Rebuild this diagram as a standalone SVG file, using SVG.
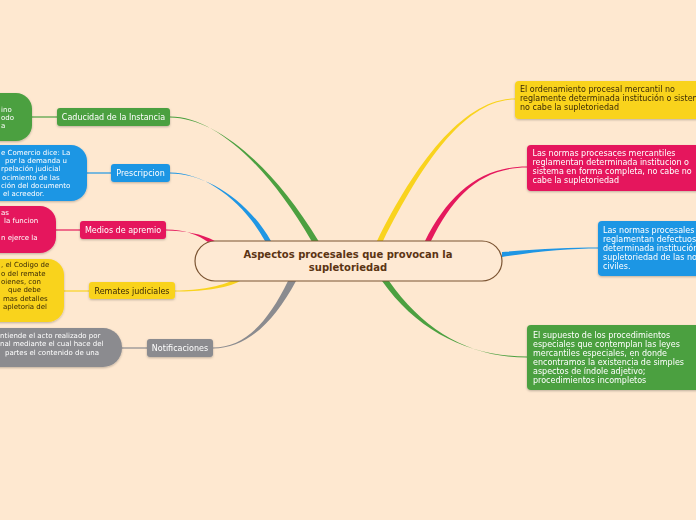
<svg xmlns="http://www.w3.org/2000/svg" width="696" height="520" viewBox="0 0 696 520">
<defs>
<style>
.t{font-family:"DejaVu Sans",Verdana,sans-serif;font-size:8px;fill:#fff}
.s{font-family:"DejaVu Sans",Verdana,sans-serif;font-size:7px;fill:#fff}
.dk{fill:#3a2a05}
.c{text-anchor:middle}
.ctr{font-family:"DejaVu Sans",Verdana,sans-serif;font-size:10px;font-weight:bold;fill:#5b3413;text-anchor:middle}
.g{fill:#4ca040}.b{fill:#1f96e4}.p{fill:#e5195d}.y{fill:#f9d31e}.gr{fill:#8b8b8f}
.ln{fill:none;stroke-width:1.2}
</style>
<filter id="sh" x="-10%" y="-10%" width="120%" height="140%">
<feDropShadow dx="0" dy="1" stdDeviation="0.8" flood-color="#000" flood-opacity="0.25"/>
</filter>
</defs>
<rect width="696" height="520" fill="#fee8d0"/>
<g id="connectors">
<path class="g" d="M311.5,241 C268,166 215,116.5 170,116.5 L170,117.5 C215,117.5 272,164 318.5,241 Z"/>
<path class="b" d="M265,241 C243,201 205,172.5 170,172.5 L170,173.5 C205,173.5 247,199 271,241 Z"/>
<path class="p" d="M208,242 C198,235 185,229.5 166,229.5 L166,230.5 C185,230.5 202,234 215,241 Z"/>
<path class="y" d="M233,280 C222,286 200,290.5 175,290.5 L175,291.5 C200,291.5 226,289 240,281 Z"/>
<path class="gr" d="M288,281 C268,322 245,347.5 213,347.5 L213,348.5 C247,348.5 274,322 296,281 Z"/>
<path class="y" d="M377,241 C417,160 465,98.5 515,98.5 L515,99.5 C466,99.5 423,161 383,241 Z"/>
<path class="p" d="M425,241 C448,195 480,166.5 527,166.5 L527,167.5 C481,167.5 453,196 431,241 Z"/>
<path class="b" d="M502,252 C540,249 570,247.5 599,247.5 L599,248.5 C570,248.5 540,251 502,257 Z"/>
<path class="g" d="M382,281 C418,332 470,356.5 527,356.5 L527,357.5 C470,357.5 424,331 389,281 Z"/>
<line class="ln" x1="57" y1="117" x2="32" y2="117" stroke="#4ca040"/>
<line class="ln" x1="111" y1="173" x2="87" y2="173" stroke="#1f96e4"/>
<line class="ln" x1="80" y1="230" x2="56" y2="230" stroke="#e5195d"/>
<line class="ln" x1="89" y1="291" x2="64" y2="291" stroke="#f9d31e"/>
<line class="ln" x1="147" y1="348" x2="122" y2="348" stroke="#8b8b8f"/>
</g>
<g id="center">
<rect x="195" y="241" width="307" height="40" rx="20" fill="#fee9d3" stroke="#7b5432" stroke-width="1.2"/>
<text class="ctr" x="348" y="258">Aspectos procesales que provocan la</text>
<text class="ctr" x="348" y="271">supletoriedad</text>
</g>
<g id="caducidad" filter="url(#sh)">
<rect class="g" x="57" y="108" width="113" height="18" rx="3"/>
<text class="t c" x="113.5" y="120">Caducidad de la Instancia</text>
</g>
<g id="caducidad-leaf" filter="url(#sh)">
<rect class="g" x="-30" y="93" width="62" height="48" rx="16"/>
<text class="s" x="1" y="111.5">ino</text>
<text class="s" x="1" y="119.8">odo</text>
<text class="s" x="1" y="128.1">a</text>
</g>
<g id="prescripcion" filter="url(#sh)">
<rect class="b" x="111" y="164" width="59" height="18" rx="3"/>
<text class="t c" x="140.5" y="176">Prescripcion</text>
</g>
<g id="prescripcion-leaf" filter="url(#sh)">
<rect class="b" x="-30" y="145" width="117" height="56" rx="16"/>
<text class="s" x="1" y="155">e Comercio dice: La</text>
<text class="s" x="5" y="163.2">por la demanda u</text>
<text class="s" x="1" y="171.4">rpelación judicial</text>
<text class="s" x="2" y="179.6">ocimiento de las</text>
<text class="s" x="1" y="187.8">ción del documento</text>
<text class="s" x="3" y="196">el acreedor.</text>
</g>
<g id="medios" filter="url(#sh)">
<rect class="p" x="80" y="221" width="86" height="18" rx="3"/>
<text class="t c" x="123" y="233">Medios de apremio</text>
</g>
<g id="medios-leaf" filter="url(#sh)">
<rect class="p" x="-30" y="206" width="86" height="47" rx="16"/>
<text class="s" x="1" y="215">as</text>
<text class="s" x="4" y="223.3">la funcion</text>
<text class="s" x="1" y="240">n ejerce la</text>
</g>
<g id="remates" filter="url(#sh)">
<rect class="y" x="89" y="282" width="86" height="17" rx="3"/>
<text class="t c dk" x="132" y="294">Remates judiciales</text>
</g>
<g id="remates-leaf" filter="url(#sh)">
<rect class="y" x="-30" y="259" width="94" height="63" rx="16"/>
<text class="s dk" x="1" y="267.3">, el Codigo de</text>
<text class="s dk" x="1" y="275.6">o del remate</text>
<text class="s dk" x="1" y="283.9">oienes, con</text>
<text class="s dk" x="8" y="292.2">que debe</text>
<text class="s dk" x="3" y="300.5">mas detalles</text>
<text class="s dk" x="3" y="308.8">apletoria del</text>
</g>
<g id="notificaciones" filter="url(#sh)">
<rect class="gr" x="147" y="339" width="66" height="18" rx="3"/>
<text class="t c" x="180" y="351">Notificaciones</text>
</g>
<g id="notificaciones-leaf" filter="url(#sh)">
<rect class="gr" x="-30" y="328" width="152" height="39" rx="19"/>
<text class="s" x="0" y="337.5">ntiende el acto realizado por</text>
<text class="s" x="0" y="346">nal mediante el cual hace del</text>
<text class="s" x="5" y="354.5">partes el contenido de una</text>
</g>
<g id="r-yellow" filter="url(#sh)">
<rect class="y" x="515" y="81" width="190" height="38" rx="4"/>
<text class="t dk" x="520" y="92">El ordenamiento procesal mercantil no</text>
<text class="t dk" x="520" y="101">reglamente determinada institución o sistem</text>
<text class="t dk" x="520" y="110">no cabe la supletoriedad</text>
</g>
<g id="r-pink" filter="url(#sh)">
<rect class="p" x="527" y="145" width="178" height="46" rx="4"/>
<text class="t" x="532.5" y="156">Las normas procesaces mercantiles</text>
<text class="t" x="532.5" y="165">reglamentan determinada institucion o</text>
<text class="t" x="532.5" y="174">sistema en forma completa, no cabe no</text>
<text class="t" x="532.5" y="183">cabe la supletoriedad</text>
</g>
<g id="r-blue" filter="url(#sh)">
<rect class="b" x="598" y="221" width="107" height="55" rx="4"/>
<text class="t" x="603" y="233">Las normas procesales</text>
<text class="t" x="603" y="242">reglamentan defectuos</text>
<text class="t" x="603" y="251">determinada institución</text>
<text class="t" x="603" y="260">supletoriedad de las no</text>
<text class="t" x="603" y="269">civiles.</text>
</g>
<g id="r-green" filter="url(#sh)">
<rect class="g" x="527" y="325" width="178" height="65" rx="4"/>
<text class="t" x="533" y="338">El supuesto de los procedimientos</text>
<text class="t" x="533" y="347">especiales que contemplan las leyes</text>
<text class="t" x="533" y="356">mercantiles especiales, en donde</text>
<text class="t" x="533" y="365">encontramos la existencia de simples</text>
<text class="t" x="533" y="374">aspectos de índole adjetivo;</text>
<text class="t" x="533" y="383">procedimientos incompletos</text>
</g>
</svg>
